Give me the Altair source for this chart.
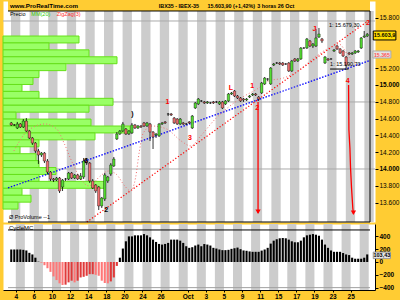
import altair as alt
import numpy as np
import pandas as pd

FONT = "Liberation Sans, Arial, sans-serif"

# ---------------- data ----------------
# IBEX-35, 3-hour candles, 3 per trading day; day 0 = 4 Sep 2007
first_bar = -2
opens = [14548, 14524,
 14488, 14536, 14500, 14571, 14452, 14369, 14309, 14214, 14167, 14190,
 14095, 13964, 13881, 13869, 13893, 13786, 13881, 13881, 13952, 13893,
 13929, 13881, 13905, 14095, 14071, 13857, 13810, 13786, 13560, 13643,
 13857, 13940, 14036, 14357, 14417, 14452, 14476, 14417, 14429, 14524,
 14488, 14512, 14548, 14512, 14536, 14440, 14405, 14393, 14536, 14560,
 14655, 14655, 14607, 14595, 14536, 14548, 14536, 14560, 14488, 14726,
 14774, 14810, 14798, 14786, 14786, 14798, 14798, 14774, 14798, 14774,
 14810, 14893, 14929, 14869, 14845, 14833, 14821, 14857, 14881, 14893,
 14857, 14905, 15012, 15071, 15012, 15238, 15262, 15262, 15262, 15250,
 15262, 15167, 15310, 15286, 15310, 15440, 15440, 15524, 15464, 15464,
 15571, 15548, 15262, 15310, 15310, 15405, 15464, 15429, 15405, 15333,
 15381, 15369, 15381, 15393, 15440, 15571, 15583]
closes = [14524, 14524,
 14536, 14500, 14571, 14452, 14369, 14309, 14214, 14167, 14190, 14095,
 13964, 13881, 13869, 13893, 13738, 13869, 13881, 13952, 13893, 13929,
 13881, 13917, 14095, 14071, 13857, 13774, 13738, 13560, 13655, 13929,
 13905, 14048, 14119, 14417, 14452, 14536, 14417, 14452, 14524, 14488,
 14512, 14500, 14512, 14548, 14440, 14381, 14417, 14536, 14548, 14548,
 14655, 14643, 14548, 14536, 14595, 14536, 14536, 14548, 14631, 14786,
 14833, 14810, 14786, 14798, 14786, 14786, 14798, 14798, 14726, 14810,
 14893, 14905, 14869, 14845, 14810, 14821, 14833, 14869, 14893, 14881,
 14833, 15024, 15083, 15071, 15202, 15250, 15262, 15250, 15238, 15250,
 15167, 15286, 15286, 15310, 15440, 15440, 15548, 15464, 15488, 15560,
 15607, 15524, 15333, 15298, 15310, 15417, 15429, 15381, 15345, 15238,
 15369, 15381, 15405, 15405, 15560, 15583, 15604]
highs = [14560, 14536,
 14560, 14548, 14595, 14607, 14464, 14381, 14321, 14238, 14202, 14202,
 14119, 13976, 13893, 13905, 13905, 13881, 13893, 13964, 13964, 13940,
 13940, 13952, 14131, 14131, 14083, 13881, 13821, 13798, 13667, 13952,
 13917, 14071, 14143, 14440, 14464, 14560, 14488, 14464, 14548, 14536,
 14524, 14524, 14560, 14560, 14548, 14452, 14429, 14548, 14560, 14571,
 14667, 14667, 14619, 14607, 14607, 14560, 14548, 14571, 14643, 14798,
 14845, 14821, 14810, 14810, 14798, 14810, 14810, 14810, 14810, 14821,
 14905, 14917, 14940, 14881, 14857, 14845, 14845, 14881, 14905, 14905,
 14869, 15036, 15095, 15083, 15214, 15262, 15274, 15274, 15274, 15262,
 15274, 15298, 15321, 15321, 15452, 15452, 15560, 15536, 15500, 15667,
 15679, 15560, 15345, 15321, 15321, 15429, 15476, 15440, 15417, 15345,
 15393, 15393, 15417, 15417, 15571, 15643, 15619]
lows = [14512, 14512,
 14476, 14488, 14488, 14440, 14357, 14286, 14190, 14060, 14143, 14071,
 13940, 13857, 13845, 13857, 13714, 13738, 13857, 13869, 13881, 13881,
 13869, 13869, 13881, 14048, 13833, 13762, 13714, 13512, 13536, 13619,
 13833, 13917, 14024, 14345, 14405, 14440, 14405, 14405, 14417, 14476,
 14476, 14488, 14500, 14500, 14333, 14238, 14369, 14381, 14524, 14536,
 14631, 14631, 14536, 14524, 14524, 14524, 14524, 14536, 14476, 14714,
 14762, 14798, 14774, 14774, 14774, 14774, 14786, 14762, 14714, 14762,
 14798, 14881, 14857, 14833, 14798, 14798, 14810, 14845, 14869, 14869,
 14810, 14893, 15000, 15048, 15000, 15226, 15250, 15238, 15226, 15238,
 15155, 15155, 15274, 15274, 15298, 15429, 15429, 15452, 15440, 15452,
 15560, 15500, 15250, 15286, 15298, 15393, 15417, 15369, 15333, 15202,
 15357, 15357, 15369, 15381, 15429, 15560, 15571]
cci = [195, 195,
 195, 195, 190, 180, 143, 118, 67, 5, -10, -50,
 -97, -154, -225, -282, -333, -359, -354, -318, -292, -318,
 -292, -241, -231, -215, -190, -190, -200, -215, -292, -328,
 -333, -303, -241, -61, 67, 210, 323, 400, 400, 416,
 416, 416, 436, 416, 385, 349, 313, 282, 272, 282,
 298, 349, 349, 349, 333, 298, 246, 221, 231, 257,
 272, 246, 280, 272, 257, 221, 210, 195, 185, 185,
 190, 205, 215, 225, 200, 180, 175, 165, 159, 159,
 159, 178, 195, 221, 287, 333, 355, 370, 375, 370,
 349, 323, 308, 308, 333, 385, 416, 426, 436, 426,
 410, 349, 272, 221, 180, 159, 159, 159, 140, 118,
 108, 67, 51, 51, 51, 67, 118]

day_label_pos = [0, 2, 4, 6, 8, 10, 12, 14, 16, 19, 21, 23, 25, 27, 29, 31, 33, 35, 37]
day_labels = ["4", "6", "10", "12", "14", "18", "20", "24", "26", "Oct",
              "3", "5", "9", "11", "15", "17", "19", "23", "25"]

# volume profile (top bin first)
profile_vol = [76, 46, 86, 114, 63, 36, 30, 19, 36, 110, 86, 13, 88, 127, 92,
               36, 17, 33, 36, 53, 36, 102, 19, 28, 15]
profile_top = 15583
profile_step = 82.4

blue_x = [-0.86, 39.14]
blue_p = [13774, 15293]
redline_x = [7.85, 38.92]
redline_p = [13369, 15762]
cycle_x = [-0.215, 1.29, 3.23, 4.52, 5.38, 6.02, 6.99, 8.06, 9.35, 10.22, 11.08, 12.04,
           12.69, 13.23, 13.66, 14.09, 15.05, 16.67, 18.28, 19.35, 20.43, 22.04, 23.66,
           25.27, 26.67, 27.96, 29.57, 31.18, 32.8, 34.41, 35.7, 36.77, 37.63]
cycle_p = [14214, 14452, 14536, 14476, 14298, 14131, 13917, 13798, 13917, 13976, 13940,
           13798, 13738, 13893, 14214, 14429, 14512, 14476, 14333, 14274, 14393, 14595,
           14750, 14869, 14952, 15048, 15083, 15167, 15310, 15429, 15488, 15345, 15250]
arrow1_x = [26.77, 26.77]
arrow1_p = [14798, 13480]
arrow2_x = [36.77, 36.81, 36.92, 36.99, 37.10, 37.24, 37.31]
arrow2_p = [15000, 14464, 14250, 14012, 13774, 13536, 13470]
head_x = [26.77, 37.31]
head_p = [13492, 13480]

level_x0 = [-0.86, 10.75, 2.8]
level_p = [15762, 14798, 14000]

# ---------------- geometry ----------------
XMIN, XMAX = -0.86, 39.14
PMIN, PTOP, PMAX = 13369, 15881, 16000
LMIN, LMAX = -437, 593
W, HM, HL = 372, 221, 66

xs = alt.Scale(domain=[XMIN, XMAX], nice=False, zero=False)
ys = alt.Scale(domain=[PMIN, PMAX], nice=False, zero=False)
ls = alt.Scale(domain=[LMIN, LMAX], nice=False, zero=False)

ymain_axis = alt.Axis(
    orient="right", values=[13600, 13800, 14000, 14200, 14400, 14600, 14800, 15000, 15200, 15800],
    labelExpr="replace(format(datum.value, ','), ',', '.')", domain=False, ticks=True,
    tickColor="black", tickSize=3, labelFont=FONT, labelFontSize=6.5,
    labelFontWeight={"condition": {"test": "datum.value % 1000 === 0", "value": "bold"}, "value": "normal"},
    labelColor="black", labelPadding=1, grid=False, title=None)

def PX(f):
    return alt.X(f, type="quantitative", scale=xs, axis=None)

def PY(f):
    return alt.Y(f, type="quantitative", scale=ys, axis=ymain_axis)

# candles
n = len(opens)
assert n == len(closes) == len(highs) == len(lows) == len(cci)
bar_idx = np.arange(first_bar, first_bar + n)
cd = pd.DataFrame({"x": (bar_idx + 0.5) / 3.0, "o": opens, "c": closes, "h": highs, "l": lows})
cd["dir"] = np.where(cd.c > cd.o, "up", np.where(cd.c < cd.o, "down", "flat"))

stripe_days = list(range(0, 39, 2))
sm = pd.DataFrame({"x": stripe_days, "x2": [d + 1 for d in stripe_days], "y": PMIN, "y2": PTOP})
stripes_main = alt.Chart(sm).mark_rect(color="#CCCCCC").encode(x=PX("x"), x2="x2", y=PY("y"), y2="y2")

lv = pd.DataFrame({"x": level_x0, "x2": XMAX, "p": level_p})
levels = alt.Chart(lv).mark_rule(color="#AAAAAA", strokeWidth=1).encode(x=PX("x"), x2="x2", y=PY("p"))

bottom = alt.layer(stripes_main, levels)

pf = pd.DataFrame({"v0": 0, "v": profile_vol,
                   "hi": [profile_top - profile_step * i for i in range(len(profile_vol))],
                   "lo": [profile_top - profile_step * (i + 1) for i in range(len(profile_vol))]})
profile = alt.Chart(pf).mark_rect(fill="#99FF66", stroke="#66E01A", strokeWidth=1).encode(
    x=alt.X("v0:Q", scale=alt.Scale(domain=[0, W], nice=False, zero=False), axis=None),
    x2="v", y=PY("lo"), y2="hi")

blue = alt.Chart(pd.DataFrame({"x": blue_x, "p": blue_p})).mark_line(
    color="#0000FF", strokeDash=[1.5, 1.5], strokeWidth=1.3, clip=True).encode(x=PX("x"), y=PY("p"))
redl = alt.Chart(pd.DataFrame({"x": redline_x, "p": redline_p})).mark_line(
    color="#FF0000", strokeDash=[1.2, 2], strokeWidth=1.2).encode(x=PX("x"), y=PY("p"))
cyc = alt.Chart(pd.DataFrame({"x": cycle_x, "p": cycle_p})).mark_line(
    color="#F07070", strokeDash=[1, 2.2], strokeWidth=1, interpolate="monotone").encode(x=PX("x"), y=PY("p"))

wicks = alt.Chart(cd).mark_rule(color="black", strokeWidth=0.8).encode(x=PX("x"), y=PY("l"), y2="h")
bodies = alt.Chart(cd).mark_bar(size=2.4, stroke="black", strokeWidth=0.4).encode(
    x=PX("x"), y=PY("o"), y2="c",
    color=alt.Color("dir:N", scale=alt.Scale(domain=["up", "down", "flat"],
                                             range=["#55DD33", "#F07070", "#000000"]), legend=None))

a1 = alt.Chart(pd.DataFrame({"x": arrow1_x, "p": arrow1_p})).mark_line(color="#FF0000", strokeWidth=1.3).encode(x=PX("x"), y=PY("p"))
a2 = alt.Chart(pd.DataFrame({"x": arrow2_x, "p": arrow2_p})).mark_line(color="#FF0000", strokeWidth=1.3).encode(x=PX("x"), y=PY("p"))
heads = alt.Chart(pd.DataFrame({"x": head_x, "p": head_p})).mark_point(
    shape="triangle-down", filled=True, color="#FF0000", size=28, opacity=1).encode(x=PX("x"), y=PY("p"))

seg = alt.Chart(pd.DataFrame({"x": [34.73], "x2": [36.77], "p": [15190]})).mark_rule(
    color="black", strokeWidth=1).encode(x=PX("x"), x2="x2", y=PY("p"))

red_lab = pd.DataFrame({"t": ["1", "L", "1", "2", "3", "J", "4", "2"],
                        "x": [16.77, 23.76, 26.13, 26.67, 19.25, 33.01, 36.67, 38.92],
                        "p": [14798, 14964, 14988, 14726, 14369, 15667, 15048, 15740]})
red_txt = alt.Chart(red_lab).mark_text(color="#FF0000", font=FONT, fontSize=7, fontWeight="bold").encode(
    x=PX("x"), y=PY("p"), text="t:N")
blk_lab = pd.DataFrame({"t": [")", "6", "2"], "x": [12.9, 7.74, 10.0], "p": [14655, 14095, 13512]})
blk_txt = alt.Chart(blk_lab).mark_text(color="black", font=FONT, fontSize=7, fontWeight="bold").encode(
    x=PX("x"), y=PY("p"), text="t:N")

ann = pd.DataFrame({"t": ["1: 15.679,30", "1: 15.190,70", "Ø  ProVolume --1"],
                    "x": [34.6, 34.73, -0.75], "p": [15714, 15250, 13429]})
ann_txt = alt.Chart(ann).mark_text(align="left", baseline="middle", font=FONT, fontSize=5.5,
                                   color="black").encode(x=PX("x"), y=PY("p"), text="t:N")

leg = pd.DataFrame({"t": ["Precio", "MM(20)", "ZigZag(3)"], "x": [-0.65, 1.72, 4.52],
                    "p": [15845, 15845, 15845], "col": ["black", "#33CC00", "#FF3333"]})
leg_txt = alt.Chart(leg).mark_text(align="left", baseline="middle", font=FONT, fontSize=5.5).encode(
    x=PX("x"), y=PY("p"), text="t:N", color=alt.Color("col:N", scale=None))

boxes = pd.DataFrame({"x": [39.5, 39.46], "x2": [42.0, 41.45], "p": [15536, 15321], "p2": [15643, 15405],
                      "fill": ["#FFDD00", "#E4E4E4"], "stroke": ["black", "#AAAAAA"]})
box_r = alt.Chart(boxes).mark_rect(strokeWidth=1).encode(
    x=PX("x"), x2="x2", y=PY("p"), y2="p2", color=alt.Color("fill:N", scale=None),
    stroke=alt.Stroke("stroke:N", scale=None))
box_t = alt.Chart(pd.DataFrame({"t": ["15.603,9", "15.365"], "x": [40.75, 40.45], "p": [15590, 15363],
                                "col": ["black", "#FF5555"], "fs": [5.5, 5.2]})).mark_text(
    font=FONT, fontWeight="bold", baseline="middle").encode(
    x=PX("x"), y=PY("p"), text="t:N", color=alt.Color("col:N", scale=None),
    size=alt.Size("fs:Q", scale=None))

topbar = alt.Chart(pd.DataFrame({"x": [XMIN], "x2": [XMAX], "p": [PTOP], "p2": [PMAX]})).mark_rect(
    color="#FFCC33").encode(x=PX("x"), x2="x2", y=PY("p"), y2="p2")
head = pd.DataFrame({"t": ["www.ProRealTime.com", "IBX35 - IBEX-35", "15.603,90 (+1,42%)", "3 horas  26 Oct"],
                     "x": [-0.65, 15.8, 21.18, 26.67], "p": [15940] * 4, "fs": [6.2, 5.4, 5.4, 5.4]})
head_txt = alt.Chart(head).mark_text(align="left", baseline="middle", font=FONT, fontWeight="bold",
                                     color="black").encode(
    x=PX("x"), y=PY("p"), text="t:N", size=alt.Size("fs:Q", scale=None))

frame = pd.DataFrame({"x": [XMIN, XMIN], "x2": [XMAX, XMAX], "p": [PTOP, PMIN]})
frame_h = alt.Chart(frame).mark_rule(color="black", strokeWidth=1).encode(x=PX("x"), x2="x2", y=PY("p"))
frame_v = alt.Chart(pd.DataFrame({"x": [XMAX], "p": [PMIN], "p2": [PTOP]})).mark_rule(
    color="black", strokeWidth=1).encode(x=PX("x"), y=PY("p"), y2="p2")

top = alt.layer(blue, redl, cyc, wicks, bodies, a1, a2, heads, seg, red_txt, blk_txt, ann_txt,
                leg_txt, box_r, box_t, topbar, head_txt, frame_h, frame_v)

main = alt.layer(bottom, profile, top).resolve_scale(x="independent").properties(width=W, height=HM)

# ---------------- lower panel (oscillator) ----------------
lab_expr = "[" + ",".join("'%s'" % s for s in day_labels) + "][indexof([" + \
           ",".join(str(v) for v in day_label_pos) + "], datum.value)]"
lx_axis = alt.Axis(values=day_label_pos, labelExpr=lab_expr, domain=True, domainColor="black",
                   ticks=True, tickColor="black", tickSize=2, labelFont=FONT, labelFontSize=6.5,
                   labelFontWeight="bold", labelColor="black", labelPadding=1, grid=False,
                   title=None, labelOverlap=False, labelFlush=False)
ly_axis = alt.Axis(orient="right", values=[-400, -200, 0, 200, 400], domain=True, domainColor="black",
                   ticks=True, tickColor="black", tickSize=3, labelFont=FONT, labelFontSize=6.5,
                   labelFontWeight="bold", labelColor="black", labelPadding=1, grid=False, title=None)

def LX(f):
    return alt.X(f, type="quantitative", scale=xs, axis=lx_axis)

def LY(f):
    return alt.Y(f, type="quantitative", scale=ls, axis=ly_axis)

sl = pd.DataFrame({"x": stripe_days, "x2": [d + 1 for d in stripe_days], "y": LMIN, "y2": LMAX})
stripes_low = alt.Chart(sl).mark_rect(color="#CCCCCC").encode(x=LX("x"), x2="x2", y=LY("y"), y2="y2")
lrules = pd.DataFrame({"x": [XMIN, XMIN], "x2": [XMAX, XMAX], "v": [500, -400], "col": ["black", "#A0A0A0"]})
low_rules = alt.Chart(lrules).mark_rule(strokeWidth=1).encode(
    x=LX("x"), x2="x2", y=LY("v"), color=alt.Color("col:N", scale=None))

hd = pd.DataFrame({"x": (bar_idx + 0.5) / 3.0, "v": cci, "z": 0})
prev = hd.v.shift(1).fillna(hd.v)
hd["col"] = np.where(hd.v >= 0, "#000000", np.where(hd.v >= prev, "#E03A3A", "#FF7777"))
hist = alt.Chart(hd).mark_bar(size=2.1).encode(
    x=LX("x"), y=LY("v"), y2="z", color=alt.Color("col:N", scale=None))

lbox = alt.Chart(pd.DataFrame({"x": [39.5], "x2": [41.4], "v": [53], "v2": [155]})).mark_rect(
    fill="#E4E4E4", stroke="#999999", strokeWidth=1).encode(x=LX("x"), x2="x2", y=LY("v"), y2="v2")
ltxt = alt.Chart(pd.DataFrame({"t": ["103,43"], "x": [40.45], "v": [104]})).mark_text(
    font=FONT, fontSize=5.5, fontWeight="bold", color="black", baseline="middle").encode(
    x=LX("x"), y=LY("v"), text="t:N")
ltxt2 = alt.Chart(pd.DataFrame({"t": ["CycleMC"], "x": [-0.75], "v": [530]})).mark_text(
    font=FONT, fontSize=6, color="black", align="left", baseline="middle").encode(
    x=LX("x"), y=LY("v"), text="t:N")

low = alt.layer(stripes_low, low_rules, hist, lbox, ltxt, ltxt2).properties(width=W, height=HL)

chart = alt.vconcat(main, low, spacing=2, bounds="flush").properties(
    padding={"left": 2, "top": 0, "right": 0, "bottom": 0}
).configure(background="#FFCC33").configure_view(fill="white", stroke="transparent")

chart.save("out.html", embed_options={"renderer": "svg", "actions": False})
